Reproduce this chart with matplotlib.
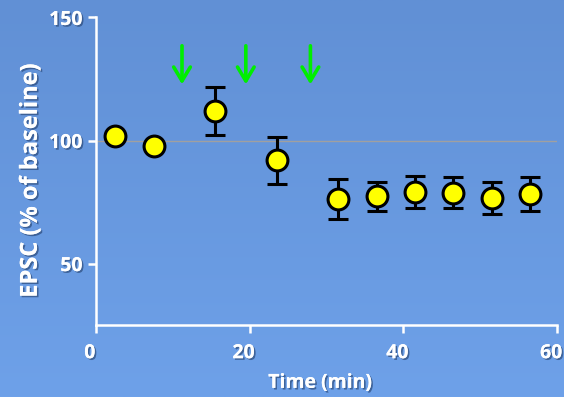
import numpy as np
import matplotlib
matplotlib.use("Agg")
import matplotlib.pyplot as plt
import matplotlib.patheffects as pe
import matplotlib.transforms as mtransforms

# data
time_min = [2.5, 7.5, 15.5, 23.5, 31.5, 36.5, 41.5, 46.5, 51.5, 56.5]
epsc_pct = [101.8, 97.8, 111.9, 92.0, 76.4, 77.3, 79.0, 78.8, 76.7, 78.3]
epsc_err = [0, 0, 9.7, 9.6, 8.1, 5.8, 6.6, 6.2, 6.4, 7.0]
arrow_times = [11.2, 19.5, 27.9]
x_ticks = [0, 20, 40, 60]
y_ticks = [50, 100, 150]

plt.rcParams["font.family"] = ["Open Sans", "DejaVu Sans"]
plt.rcParams["font.weight"] = "bold"

fig = plt.figure(figsize=(5.64, 3.97), dpi=100)

# vertical blue gradient background
bg = fig.add_axes([0, 0, 1, 1], zorder=-10)
grad = np.linspace(0, 1, 256).reshape(-1, 1)
cmap = matplotlib.colors.LinearSegmentedColormap.from_list("bg", ["#6190d5", "#6ea1e9"])
bg.imshow(grad, aspect="auto", cmap=cmap, extent=[0, 1, 0, 1], origin="upper")
bg.axis("off")

ax = fig.add_axes([0.170, 0.181, 0.818, 0.775])
ax.patch.set_alpha(0)

shadow = [pe.withSimplePatchShadow(offset=(1.2, -1.2), shadow_rgbFace="#2b4a7a", alpha=0.7), pe.Normal()]

ax.axhline(100, color="#a0a0a0", lw=1, zorder=1)
ax.errorbar(time_min, epsc_pct, yerr=epsc_err, fmt="o", ms=15, mfc="#ffff00", mec="black",
            mew=2.2, ecolor="black", elinewidth=2.2, capsize=7, capthick=2.2, zorder=3)

for t in arrow_times:
    ax.annotate("", xy=(t, 122.8), xytext=(t, 138.5),
                arrowprops=dict(arrowstyle="->,head_width=0.6,head_length=1.0", color="#00ee00",
                                lw=2.6, shrinkA=0, shrinkB=0))

ax.set_xlim(0, 60)
ax.set_ylim(25, 150)
ax.set_xticks(x_ticks)
ax.set_yticks(y_ticks)

for side in ["top", "right"]:
    ax.spines[side].set_visible(False)
for side in ["left", "bottom"]:
    ax.spines[side].set_color("white")
    ax.spines[side].set_linewidth(1.8)

ax.tick_params(colors="white", width=1.8, length=6, labelsize=14)
ax.tick_params(axis="x", pad=7)
shift = mtransforms.ScaledTranslation(-0.06, 0, fig.dpi_scale_trans)
for lab in ax.get_xticklabels():
    lab.set_transform(lab.get_transform() + shift)
for lab in ax.get_xticklabels() + ax.get_yticklabels():
    lab.set_fontweight("bold")
    lab.set_path_effects(shadow)

ax.set_xlabel("Time (min)", color="white", fontsize=14, fontweight="bold",
              path_effects=shadow)
ax.xaxis.set_label_coords(0.486, -0.155)
ax.set_ylabel("EPSC (% of baseline)", color="white", fontsize=17, fontweight="bold",
              path_effects=shadow)
ax.yaxis.set_label_coords(-0.115, 0.47)

fig.savefig("out.png", dpi=100)
